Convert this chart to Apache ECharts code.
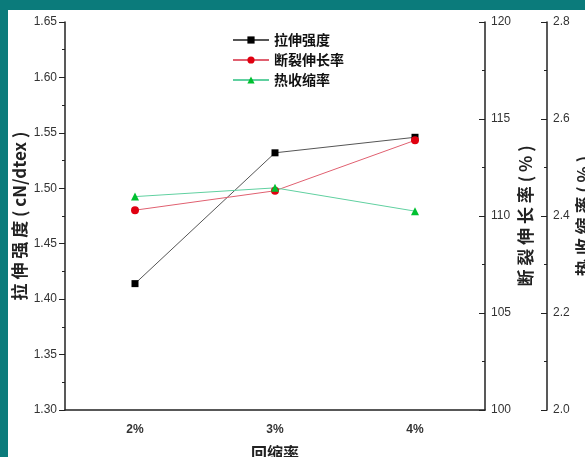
<!DOCTYPE html>
<html>
<head>
<meta charset="utf-8">
<script src="https://cdn.jsdelivr.net/npm/echarts@6/dist/echarts.min.js"></script>
<style>
html,body{margin:0;padding:0;background:#0b7b7b;}
#bg{position:absolute;left:8px;top:10px;width:577px;height:447px;background:#fff;}
#main{position:absolute;left:0;top:0;width:585px;height:457px;}
</style>
</head>
<body>
<div id="bg"></div>
<div id="main"></div>
<script>
const categories = ['2%', '3%', '4%'];
const tensileStrength = [1.414, 1.532, 1.546];   // 拉伸强度 (cN/dtex)
const elongation = [110.3, 111.3, 113.9];        // 断裂伸长率 (%)
const shrinkage = [2.44, 2.458, 2.41];           // 热收缩率 (%)
const seriesNames = ['拉伸强度', '断裂伸长率', '热收缩率'];
const axisTitles = ['拉 伸 强 度 ( cN/dtex )', '断 裂 伸 长 率 ( % )', '热 收 缩 率 ( % )', '回缩率'];

const chart = echarts.init(document.getElementById('main'));
const cjk = '"Noto Sans CJK SC", sans-serif';
const latin = '"Liberation Sans", Arial, sans-serif';
const axisLine = {show: true, lineStyle: {color: '#222', width: 1.5}};
const tickLbl = {color: '#333', fontSize: 12, fontFamily: latin};
const titleStyle = {fontSize: 17, fontFamily: cjk, fontWeight: 'bold', color: '#222'};

chart.setOption({
  animation: false,
  grid: {left: 65, right: 100, top: 22, bottom: 47, containLabel: false, outerBoundsMode: 'none'},
  legend: {
    orient: 'vertical', left: 227, top: 28, itemGap: 6,
    itemWidth: 36, itemHeight: 9,
    textStyle: {fontSize: 14, fontFamily: cjk, fontWeight: 'bold', color: '#111'},
    data: seriesNames
  },
  xAxis: [{
    type: 'category', data: categories, position: 'bottom',
    axisLine: axisLine,
    axisTick: {alignWithLabel: true, length: 5, lineStyle: {color: '#222'}},
    axisLabel: Object.assign({margin: 14, fontWeight: 'bold'}, tickLbl),
    name: axisTitles[3], nameLocation: 'middle', nameGap: 35,
    nameTextStyle: {fontSize: 16, fontFamily: cjk, fontWeight: 'bold', color: '#222'}
  }, {
    type: 'category', data: categories, position: 'bottom',
    axisLine: {show: false}, axisLabel: {show: false},
    axisTick: {length: 3, lineStyle: {color: '#222'}}
  }],
  yAxis: [{
    type: 'value', position: 'left', min: 1.3, max: 1.65, interval: 0.05,
    axisLine: axisLine,
    axisTick: {show: true, length: 6, lineStyle: {color: '#222'}},
    minorTick: {show: true, splitNumber: 2, length: 3, lineStyle: {color: '#222'}},
    splitLine: {show: false},
    axisLabel: Object.assign({margin: 8, formatter: v => v.toFixed(2)}, tickLbl),
    name: axisTitles[0], nameLocation: 'middle', nameGap: 37, nameRotate: 90,
    nameMoveOverlap: false,
    nameTextStyle: titleStyle
  }, {
    type: 'value', position: 'right', min: 100, max: 120, interval: 5,
    axisLine: axisLine,
    axisTick: {show: true, inside: true, length: 6, lineStyle: {color: '#222'}},
    minorTick: {show: true, splitNumber: 2, length: 3, lineStyle: {color: '#222'}},
    splitLine: {show: false},
    axisLabel: Object.assign({margin: 6}, tickLbl),
    name: axisTitles[1], nameLocation: 'middle', nameGap: 32, nameRotate: 90,
    nameMoveOverlap: false,
    nameTextStyle: titleStyle
  }, {
    type: 'value', position: 'right', offset: 62, min: 2.0, max: 2.8, interval: 0.2,
    axisLine: axisLine,
    axisTick: {show: true, inside: true, length: 6, lineStyle: {color: '#222'}},
    minorTick: {show: true, splitNumber: 2, length: 3, lineStyle: {color: '#222'}},
    splitLine: {show: false},
    axisLabel: Object.assign({margin: 6, formatter: v => v.toFixed(1)}, tickLbl),
    name: axisTitles[2], nameLocation: 'middle', nameGap: 28, nameRotate: 90,
    nameMoveOverlap: false,
    nameTextStyle: titleStyle
  }],
  series: [{
    name: seriesNames[0], type: 'line', yAxisIndex: 0, data: tensileStrength,
    symbol: 'rect', symbolSize: 7,
    lineStyle: {color: '#555', width: 1},
    itemStyle: {color: '#000'}
  }, {
    name: seriesNames[1], type: 'line', yAxisIndex: 1, data: elongation,
    symbol: 'circle', symbolSize: 8,
    lineStyle: {color: '#e06070', width: 1},
    itemStyle: {color: '#e00010'}
  }, {
    name: seriesNames[2], type: 'line', yAxisIndex: 2, data: shrinkage,
    symbol: 'triangle', symbolSize: 8,
    lineStyle: {color: '#60d0a0', width: 1},
    itemStyle: {color: '#00c030'}
  }]
});
</script>
</body>
</html>
